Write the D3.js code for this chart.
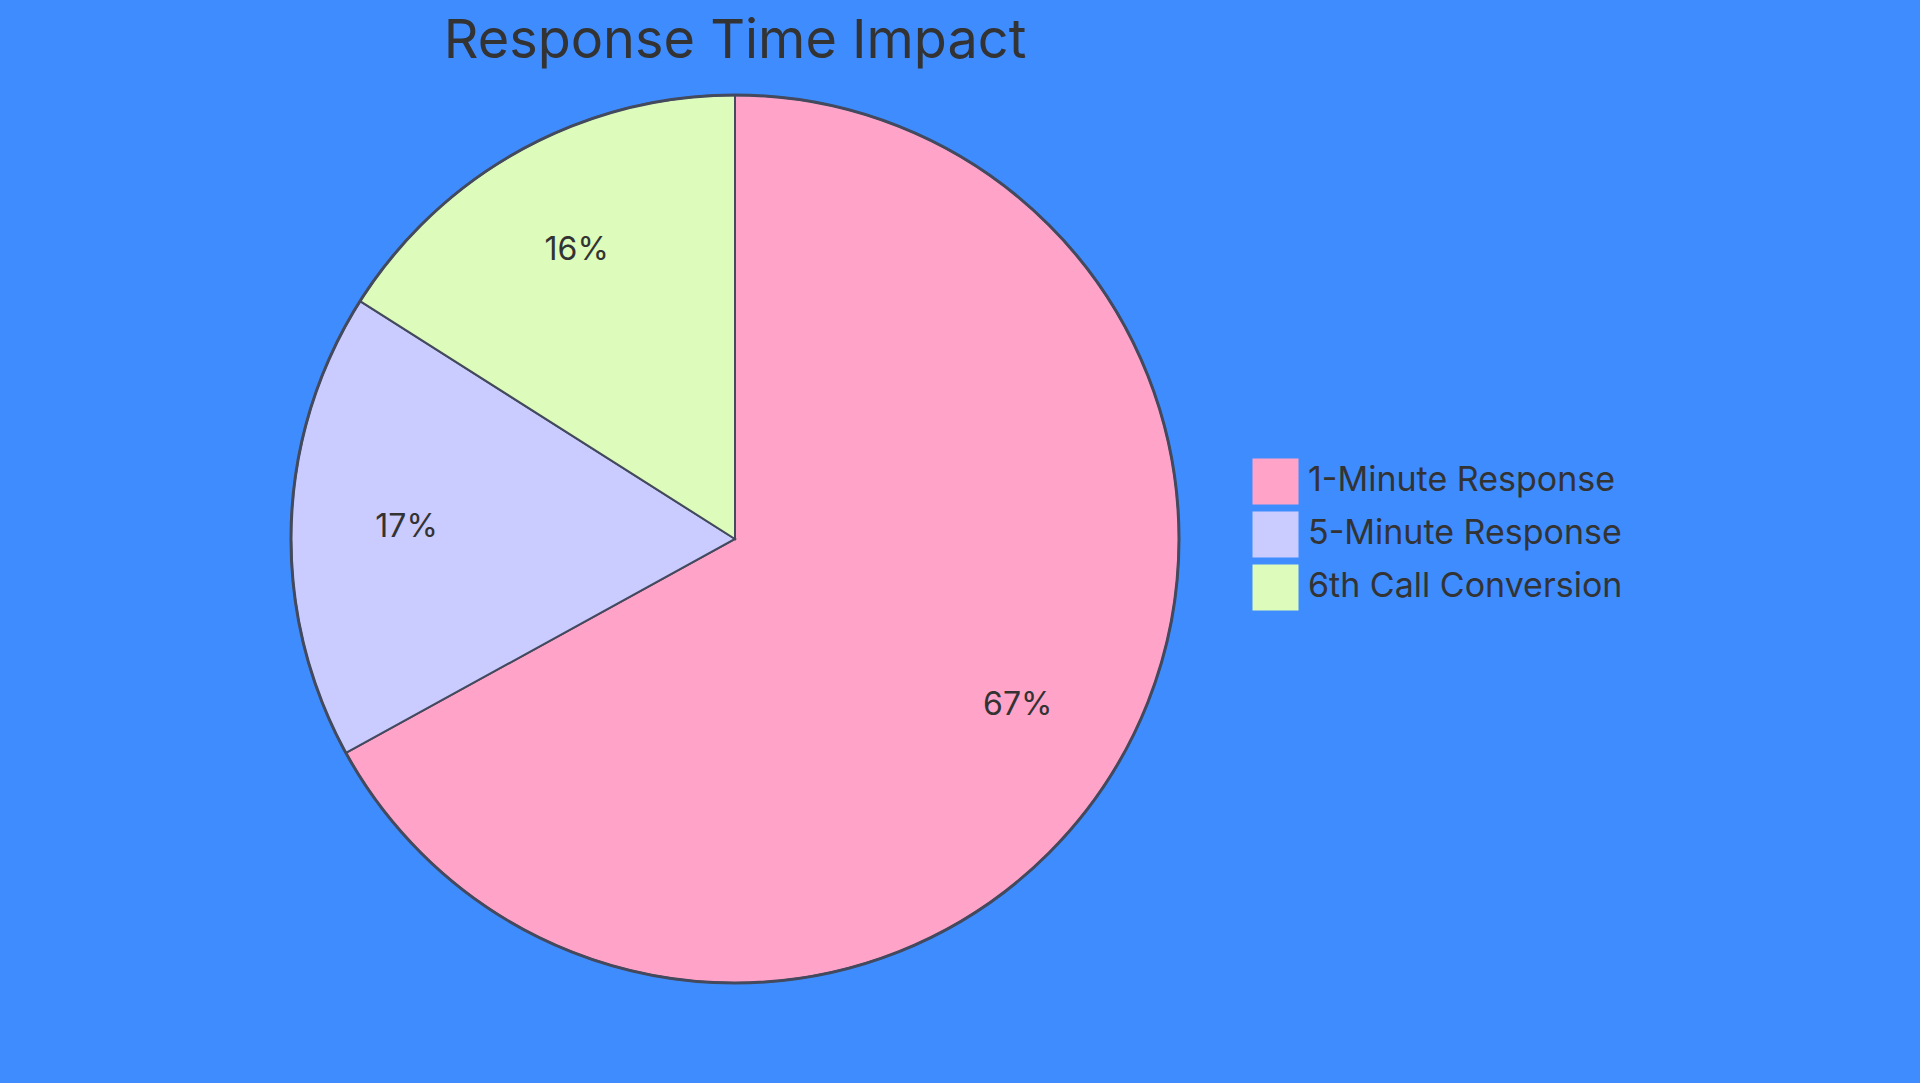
<!DOCTYPE html>
<html lang="en">
<head>
  <meta charset="UTF-8">
  <title>Response Time Impact</title>
  <script src="https://d3js.org/d3.v7.min.js"></script>
  <style>
    body { margin: 0; background: #3f8cff; font-family: Inter, "Open Sans", sans-serif; }
  </style>
</head>
<body>
  <svg id="chart" width="1920" height="1083"></svg>
  <script>
    const categories = ["1-Minute Response", "5-Minute Response", "6th Call Conversion"];
    const values = [67, 17, 16];
    const colors = ["#ffa3c8", "#cacbff", "#ddfbba"];

    const width = 1920, height = 1083;
    const cx = 735, cy = 539, radius = 444;
    const textColor = "#333";
    const stroke = "#444a5e";

    const svg = d3.select("#chart");

    svg.append("text")
      .attr("x", cx).attr("y", 58)
      .attr("text-anchor", "middle")
      .attr("font-size", 54)
      .attr("fill", textColor)
      .text("Response Time Impact");

    const data = categories.map((c, i) => ({ name: c, value: values[i], color: colors[i] }));
    const pie = d3.pie().sort(null).value(d => d.value);
    const arc = d3.arc().innerRadius(0).outerRadius(radius);
    const labelArc = d3.arc().innerRadius(radius * 0.74).outerRadius(radius * 0.74);

    const g = svg.append("g").attr("transform", `translate(${cx},${cy})`);
    const arcs = pie(data);

    g.selectAll("path").data(arcs).join("path")
      .attr("d", arc)
      .attr("fill", d => d.data.color)
      .attr("stroke", stroke)
      .attr("stroke-width", 2);

    g.append("circle").attr("r", radius).attr("fill", "none")
      .attr("stroke", stroke).attr("stroke-width", 3);

    g.selectAll("text.lbl").data(arcs).join("text")
      .attr("class", "lbl")
      .attr("transform", d => `translate(${labelArc.centroid(d)})`)
      .attr("text-anchor", "middle")
      .attr("dominant-baseline", "middle")
      .attr("font-size", 32)
      .attr("fill", textColor)
      .text(d => d.data.value + "%");

    const legend = svg.append("g").attr("transform", "translate(1253,459)");
    const item = legend.selectAll("g").data(data).join("g")
      .attr("transform", (d, i) => `translate(0,${i * 53})`);
    item.append("rect").attr("width", 45).attr("height", 45)
      .attr("fill", d => d.color).attr("stroke", d => d.color);
    item.append("text")
      .attr("x", 55).attr("y", 23)
      .attr("dominant-baseline", "middle")
      .attr("font-size", 34)
      .attr("fill", textColor)
      .text(d => d.name);
  </script>
</body>
</html>
